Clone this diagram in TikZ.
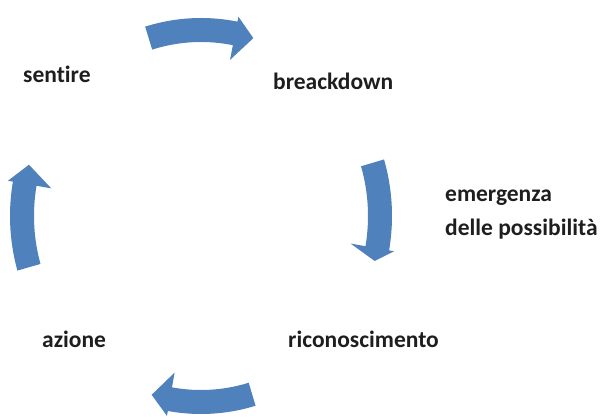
\documentclass[tikz,border=0pt]{standalone}
\usepackage{fontspec}
\setmainfont{Carlito}[Ligatures=NoCommon]
\definecolor{cycleblue}{RGB}{79,129,189}
\definecolor{labelgray}{RGB}{30,30,30}
\tikzset{
  arcfill/.style={fill=cycleblue},
  steplabel/.style={font=\bfseries\fontsize{23.5}{34}\selectfont, text=labelgray,
    inner sep=0pt, anchor=base west}
}
% Curved block arrow on the cycle ellipse (centre 201,203; radii 179 x 186).
% Body is 24 wide; the head reaches 17 outwards and 27 inwards.
% #1 tail angle, #2 angle of the head base, #3 angle of the tip
\newcommand\cyclearc[3]{%
  \fill[arcfill]
    plot[domain=#1:#2,samples=24] ({201+191*cos(\x)},{203+198*sin(\x)})
    -- ({201+196*cos(#2)},{203+203*sin(#2)})
    -- ({201+179*cos(#3)},{203+186*sin(#3)})
    -- ({201+152*cos(#2)},{203+159*sin(#2)})
    -- plot[domain=#2:#1,samples=24] ({201+167*cos(\x)},{203+174*sin(\x)})
    -- cycle;}
\begin{document}
\begin{tikzpicture}[x=1pt,y=1pt]
  \useasboundingbox (0,0) rectangle (601,419);

  % the four arrows of the cycle, clockwise
  \cyclearc{107}{79}{73}
  \cyclearc{16.6}{-10}{-14}
  \cyclearc{-73.4}{-100}{-106}
  \cyclearc{196}{170}{164}

  % step labels
  \node[steplabel] (sentire)   at (23,336)  {sentire};
  \node[steplabel] (breakdown) at (273,329) {breackdown};
  \node[steplabel] (emergenza) at (445,217) {emergenza};
  \node[steplabel] (possib)    at (445,183) {delle possibilità};
  \node[steplabel] (ricon)     at (288,71)  {riconoscimento};
  \node[steplabel] (azione)    at (42,71)   {azione};
\end{tikzpicture}
\end{document}
